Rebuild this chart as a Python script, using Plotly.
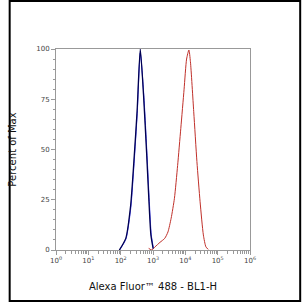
import plotly.graph_objects as go

# Data (fluorescence intensity vs percent of max)
navy_x = [91, 144, 203, 256, 322, 404, 510, 640, 750, 860, 1014]
navy_y = [0, 5.8, 22, 44, 69, 100, 77, 47, 24, 7.5, 0.5]

blue_x = [93, 146, 206, 260, 326, 404, 520, 655, 770, 885, 1040]
blue_y = [0, 5.5, 21, 43, 68, 98, 77, 47, 24, 7.5, 0.5]

red_x = [735, 920, 1164, 1641, 2312, 2904, 3641, 4600, 5770, 7240, 9150,
         10940, 12890, 14380, 18180, 22800, 28600, 36100, 43200, 50900]
red_y = [0.8, 0, 1.6, 3.8, 5.8, 9, 15.8, 25.7, 42, 60.5, 80,
         95, 99.5, 93.7, 68.8, 44, 24, 7.5, 1.6, 0.3]

x_tickvals = [1, 10, 100, 1000, 10000, 100000, 1000000]
x_ticktext = ["10<sup>%d</sup>" % i for i in range(7)]
x_minorvals = [m * 10 ** d for d in range(6) for m in range(2, 10)]
y_tickvals = [0, 25, 50, 75, 100]
y_minorvals = [v for v in range(5, 100, 5) if v % 25 != 0]

W, H = 303, 302
L, R, T, B = 49, 53, 49, 52
PW, PH = W - L - R, H - T - B

fig = go.Figure()
fig.add_trace(go.Scatter(x=blue_x, y=blue_y, mode="lines", line=dict(color="#4a4aff", width=1, shape="spline", smoothing=0.6), showlegend=False))
fig.add_trace(go.Scatter(x=navy_x, y=navy_y, mode="lines", line=dict(color="#000050", width=1.3, shape="spline", smoothing=0.6), showlegend=False))
fig.add_trace(go.Scatter(x=red_x, y=red_y, mode="lines", line=dict(color="#c0302a", width=1, shape="spline", smoothing=0.6), showlegend=False))

axis_common = dict(showline=True, linecolor="#999999", linewidth=1, mirror=True,
                   showgrid=False, zeroline=False, ticks="outside", tickcolor="#999999",
                   tickfont=dict(family="DejaVu Sans", size=7, color="#444444"))

fig.update_xaxes(type="log", range=[0, 6], tickmode="array", tickvals=x_tickvals, ticktext=x_ticktext,
                 ticklen=4, tickwidth=1,
                 minor=dict(ticks="outside", ticklen=3, tickcolor="#999999", showgrid=False,
                            tickmode="array", tickvals=x_minorvals),
                 title=dict(text="Alexa Fluor™ 488 - BL1-H", standoff=18,
                            font=dict(family="DejaVu Sans", size=10, color="#111111")),
                 **axis_common)
fig.update_yaxes(range=[0, 100], tickmode="array", tickvals=y_tickvals, ticklen=4, tickwidth=1,
                 minor=dict(ticks="outside", ticklen=2, tickcolor="#999999", showgrid=False,
                            tickmode="array", tickvals=y_minorvals),
                 title=dict(text="Percent of Max", standoff=17,
                            font=dict(family="DejaVu Sans", size=10, color="#111111")),
                 **axis_common)

fig.add_shape(type="rect", xref="paper", yref="paper",
              x0=-(L - 1) / PW, x1=1 + (R - 1) / PW,
              y0=-(B - 1) / PH, y1=1 + (T - 1) / PH,
              line=dict(color="black", width=2), layer="above")

fig.update_layout(width=W, height=H, margin=dict(l=L, r=R, t=T, b=B),
                  paper_bgcolor="white", plot_bgcolor="white")

fig.write_html("out.html")
